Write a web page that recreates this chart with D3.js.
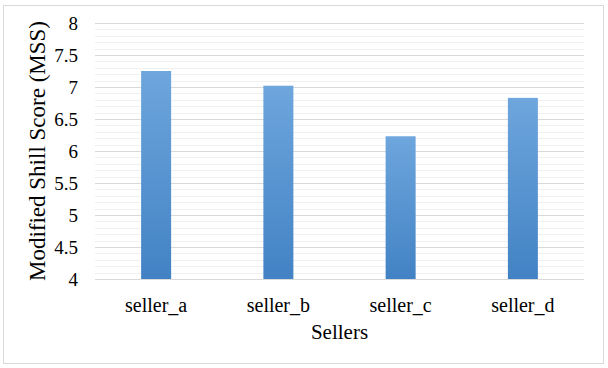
<!DOCTYPE html>
<html>
<head>
<meta charset="utf-8">
<script src="https://cdn.jsdelivr.net/npm/d3@7"></script>
<style>
  body { margin: 0; background: #fff; }
</style>
</head>
<body>
<div id="chart"></div>
<script>
// chart data
const sellers = ["seller_a", "seller_b", "seller_c", "seller_d"];
const mssValues = [7.25, 7.02, 6.23, 6.83];
const yTicks = [4, 4.5, 5, 5.5, 6, 6.5, 7, 7.5, 8];

const serif = '"Liberation Serif", "Times New Roman", serif';
const svgWidth = 608, svgHeight = 368;
const margin = {top: 23, right: 24, bottom: 89, left: 95};
const width = svgWidth - margin.left - margin.right,
      height = svgHeight - margin.top - margin.bottom;

const svg = d3.select("#chart").append("svg")
  .attr("width", svgWidth)
  .attr("height", svgHeight)
  .style("font-family", serif);

// outer frame
svg.append("rect")
  .attr("x", 3.5).attr("y", 5.5)
  .attr("width", 600).attr("height", 358)
  .attr("fill", "#fff")
  .attr("stroke", "#d9d9d9");

const defs = svg.append("defs");
const grad = defs.append("linearGradient")
  .attr("id", "barGrad")
  .attr("x1", 0).attr("y1", 0).attr("x2", 0).attr("y2", 1);
grad.append("stop").attr("offset", "0%").attr("stop-color", "#6ea6dd");
grad.append("stop").attr("offset", "100%").attr("stop-color", "#4282c4");

const main = svg.append("g")
  .attr("transform", "translate(" + margin.left + "," + margin.top + ")");

const x = d3.scaleBand().domain(sellers).range([0, width]);
const y = d3.scaleLinear().domain([4, 8]).range([height, 0]);

// minor gridlines
const minor = d3.range(40).map(i => 4 + i * 0.1).filter(v => Math.abs(v * 2 - Math.round(v * 2)) > 1e-6);
main.append("g").selectAll("line")
  .data(minor)
  .enter().append("line")
  .attr("x1", 0).attr("x2", width)
  .attr("y1", d => Math.round(y(d)) + 0.5)
  .attr("y2", d => Math.round(y(d)) + 0.5)
  .attr("stroke", "#f0f0f0");

// major gridlines via axis
const yAxis = d3.axisLeft(y).tickValues(yTicks).tickSize(-width).tickFormat(d3.format("~g"));
const yg = main.append("g").call(yAxis).attr("font-family", serif);
yg.select(".domain").remove();
yg.selectAll(".tick line").attr("stroke", "#d9d9d9");
yg.selectAll(".tick text")
  .attr("x", -17)
  .attr("dy", "0.35em")
  .style("font-family", serif)
  .style("font-size", "19px");

// bars
main.append("g").selectAll("rect")
  .data(mssValues)
  .enter().append("rect")
  .attr("x", (d, i) => x(sellers[i]) + x.bandwidth() / 2 - 15)
  .attr("width", 30)
  .attr("y", d => y(d))
  .attr("height", d => height - y(d))
  .attr("fill", "url(#barGrad)");

// x axis labels
const xAxis = d3.axisBottom(x).tickSize(0);
const xg = main.append("g")
  .attr("transform", "translate(0," + height + ")")
  .call(xAxis)
  .attr("font-family", serif);
xg.select(".domain").remove();
xg.selectAll(".tick text")
  .attr("y", 19)
  .style("font-family", serif)
  .style("font-size", "20px");

// axis titles
svg.append("text")
  .attr("x", margin.left + width / 2)
  .attr("y", 339)
  .style("text-anchor", "middle")
  .style("font-size", "21px")
  .text("Sellers");

svg.append("text")
  .attr("transform", "translate(45," + (margin.top + height / 2) + ") rotate(-90)")
  .style("text-anchor", "middle")
  .style("font-size", "23px")
  .text("Modified Shill Score (MSS)");
</script>
</body>
</html>
